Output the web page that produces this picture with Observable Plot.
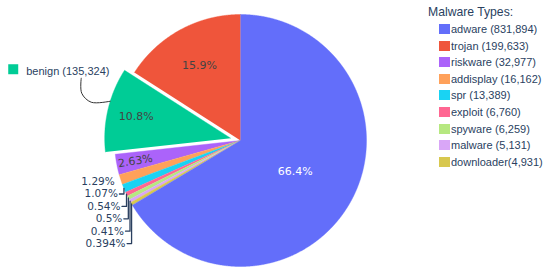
<!DOCTYPE html>
<html>
<head>
<meta charset="utf-8">
<script src="https://cdn.jsdelivr.net/npm/d3@7"></script>
<script src="https://cdn.jsdelivr.net/npm/@observablehq/plot@0.6"></script>
<style>
  html, body { margin: 0; padding: 0; background: #fff; }
  #wrap { position: relative; width: 550px; height: 271px; overflow: hidden; }
  #legend { position: absolute; left: 428px; top: 4px; font-family: "Liberation Sans", Arial, sans-serif; color: #2a3f5f; }
  #legend .title { font-size: 12.2px; height: 16px; line-height: 16px; margin-bottom: 1px; }
  #legend .item { display: flex; align-items: center; height: 16.55px; font-size: 11px; padding-left: 11px; white-space: nowrap; }
  #legend .sw { width: 11px; height: 10px; margin-right: 1px; }
</style>
</head>
<body>
<div id="wrap"><div id="chart"></div><div id="legend"></div></div>
<script>
// Slices in counter-clockwise order starting at 12 o'clock
const types  = ["trojan", "benign", "riskware", "addisplay", "spr", "exploit", "spyware", "malware", "downloader", "adware"];
const counts = [199633, 135324, 32977, 16162, 13389, 6760, 6259, 5131, 4931, 831894];
const colors = ["#ef553b", "#00cc96", "#ab63fa", "#ffa15a", "#19d3f3", "#ff6692", "#b6e880", "#d9a6f7", "#d8c84f", "#636efa"];

// Legend
const legendTitle  = "Malware Types:";
const legendTypes  = ["adware", "trojan", "riskware", "addisplay", "spr", "exploit", "spyware", "malware", "downloader"];
const legendLabels = ["adware (831,894)", "trojan (199,633)", "riskware (32,977)", "addisplay (16,162)", "spr (13,389)", "exploit (6,760)", "spyware (6,259)", "malware (5,131)", "downloader(4,931)"];

// Annotated (pulled) slice
const pulledType = "benign";
const pulledLabel = "benign (135,324)";

const pullAmount = 0.08;
const insideTypes = ["adware", "trojan", "benign", "riskware"];
const insideRadius = {adware: 0.5, trojan: 0.68, benign: 0.77, riskware: 0.85};
const insideRotate = {adware: 0, trojan: 0, benign: 0, riskware: -9};
const insideColor  = {adware: "#ffffff", trojan: "#444", benign: "#444", riskware: "#444"};

const PX = 126; // pixels per data unit (set by the scales below)
const total = d3.sum(counts);
const fmt = d3.format(".3~p");

// Build slice geometry
let cum = 0;
const slices = types.map((t, i) => {
  const f0 = cum / total; cum += counts[i]; const f1 = cum / total;
  const a0 = 2 * Math.PI * f0, a1 = 2 * Math.PI * f1, am = (a0 + a1) / 2;
  const pull = t === pulledType ? pullAmount : 0;
  const cx = -pull * Math.sin(am), cy = pull * Math.cos(am);
  return {type: t, value: counts[i], color: colors[i], a0, a1, am, cx, cy, share: counts[i] / total};
});

const polyPts = [];
for (const s of slices) {
  polyPts.push({key: s.type, color: s.color, x: s.cx, y: s.cy});
  const n = Math.max(2, Math.ceil((s.a1 - s.a0) / 0.004));
  for (let k = 0; k <= n; k++) {
    const a = s.a0 + (s.a1 - s.a0) * k / n;
    polyPts.push({key: s.type, color: s.color, x: s.cx - Math.sin(a), y: s.cy + Math.cos(a)});
  }
}

// Inside labels
const inside = slices.filter(s => insideTypes.includes(s.type)).map(s => ({
  text: fmt(s.share),
  x: s.cx - insideRadius[s.type] * Math.sin(s.am),
  y: s.cy + insideRadius[s.type] * Math.cos(s.am),
  rotate: insideRotate[s.type],
  fill: insideColor[s.type]
}));

// Outside labels with connectors
const small = slices.filter(s => !insideTypes.includes(s.type) && s.type !== "adware");
const p0y = Math.cos(small[0].am);
const outside = small.map((s, i) => {
  const px = -Math.sin(s.am), py = Math.cos(s.am);
  const ly = p0y - (2 + i * 12.4) / PX;
  const lx = px - 6 / PX;
  return {text: fmt(s.share), x: lx, y: ly, px, py, type: s.type};
});
const connectors = [];
outside.slice(1).forEach(o => {
  connectors.push({key: o.type, x: o.x + 1.5 / PX, y: o.y});
  connectors.push({key: o.type, x: o.px, y: o.y});
  connectors.push({key: o.type, x: o.px, y: o.py});
});

// Annotation for pulled slice
const ps = slices.find(s => s.type === pulledType);
const aa = ps.a0 + 0.4 * (ps.a1 - ps.a0);
const anchor = {x: ps.cx - Math.sin(aa), y: ps.cy + Math.cos(aa)};
const curveOffsets = [[-29, -23], [-28.5, -8], [-19, 1], [0, 0]];
const annLine = curveOffsets.map(([dx, dy]) => ({x: anchor.x + dx / PX, y: anchor.y - dy / PX}));
const annText = [{x: anchor.x - 84 / PX, y: anchor.y + 30 / PX, text: pulledLabel}];
const annBox  = [{x: anchor.x - 97 / PX, y: anchor.y + 32 / PX, fill: ps.color}];

const chart = Plot.plot({
  width: 550,
  height: 271,
  margin: 0,
  x: {domain: [-1, 1], range: [114, 366], axis: null},
  y: {domain: [-1, 1], range: [266, 14], axis: null},
  color: {type: "identity"},
  marks: [
    Plot.line(polyPts, {x: "x", y: "y", z: "key", fill: "color", stroke: "color", strokeWidth: 0.4, curve: "linear"}),
    Plot.text(inside, {x: "x", y: "y", text: "text", fill: "fill", rotate: "rotate", fontSize: 11, fontFamily: "DejaVu Sans"}),
    Plot.line(connectors, {x: "x", y: "y", z: "key", stroke: "#2a3f5f", strokeWidth: 1.3, curve: "linear"}),
    Plot.text(outside, {x: "x", y: "y", text: "text", textAnchor: "end", fill: "#2a3f5f", fontSize: 10.5, fontFamily: "DejaVu Sans"}),
    Plot.line(annLine, {x: "x", y: "y", stroke: "#333", strokeWidth: 1, curve: "catmull-rom"}),
    Plot.dot(annBox, {x: "x", y: "y", symbol: "square", r: 5.64, fill: "fill", stroke: null}),
    Plot.text(annText, {x: "x", y: "y", text: "text", textAnchor: "start", fill: "#2a3f5f", fontSize: 11, fontFamily: "Liberation Sans"})
  ]
});
document.getElementById("chart").appendChild(chart);

// Legend
const lg = document.getElementById("legend");
const title = document.createElement("div");
title.className = "title"; title.textContent = legendTitle; lg.appendChild(title);
legendTypes.forEach((t, i) => {
  const it = document.createElement("div"); it.className = "item";
  const sw = document.createElement("div"); sw.className = "sw";
  sw.style.background = colors[types.indexOf(t)];
  const tx = document.createElement("span"); tx.textContent = legendLabels[i];
  it.appendChild(sw); it.appendChild(tx); lg.appendChild(it);
});
</script>
</body>
</html>
